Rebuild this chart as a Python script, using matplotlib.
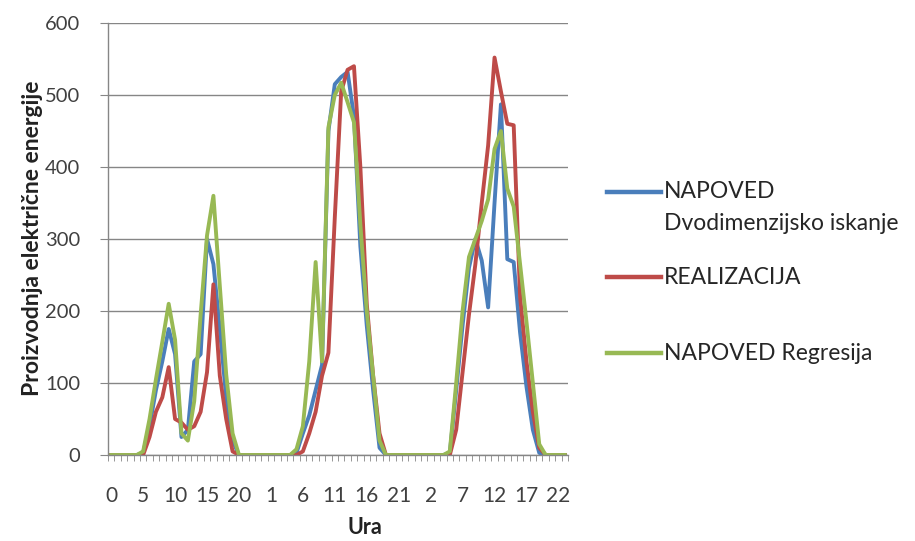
import matplotlib
matplotlib.use('Agg')
import matplotlib.pyplot as plt
from matplotlib.lines import Line2D
import numpy as np

plt.rcParams['font.family'] = ['Lato', 'DejaVu Sans']

# three days of hourly values
hours = list(range(24)) * 3

dvodim = [0, 0, 0, 0, 0, 3, 40, 90, 130, 175, 140, 25, 35, 130, 140, 300, 265, 175, 80, 20, 0, 0, 0, 0,
          0, 0, 0, 0, 0, 3, 30, 55, 90, 125, 450, 515, 525, 532, 470, 290, 180, 90, 10, 0, 0, 0, 0, 0,
          0, 0, 0, 0, 0, 3, 90, 180, 260, 300, 270, 205, 350, 487, 272, 268, 170, 95, 35, 3, 0, 0, 0, 0]
realizacija = [0, 0, 0, 0, 0, 0, 25, 60, 80, 122, 50, 45, 35, 40, 60, 115, 237, 110, 50, 5, 0, 0, 0, 0,
               0, 0, 0, 0, 0, 0, 5, 30, 60, 110, 142, 330, 505, 535, 540, 400, 210, 110, 30, 0, 0, 0, 0, 0,
               0, 0, 0, 0, 0, 0, 35, 115, 195, 265, 350, 430, 552, 505, 460, 458, 220, 130, 60, 10, 0, 0, 0, 0]
regresija = [0, 0, 0, 0, 0, 5, 50, 105, 157, 210, 160, 30, 20, 75, 195, 305, 360, 235, 112, 30, 0, 0, 0, 0,
             0, 0, 0, 0, 0, 8, 40, 130, 268, 130, 455, 500, 517, 490, 462, 320, 200, 110, 20, 0, 0, 0, 0, 0,
             0, 0, 0, 0, 0, 5, 100, 200, 275, 300, 325, 355, 425, 450, 370, 345, 265, 185, 100, 15, 0, 0, 0, 0]

names = ['NAPOVED\nDvodimenzijsko iskanje', 'REALIZACIJA', 'NAPOVED Regresija']
colors = ['#4a7ebb', '#be4b48', '#98b954']

W, H = 915, 541
fig = plt.figure(figsize=(W / 100, H / 100), dpi=100)
ax = fig.add_axes([108 / W, 1 - 455 / H, 460 / W, 432 / H])

x = np.arange(len(hours))
for vals, c in zip([dvodim, realizacija, regresija], colors):
    ax.plot(x, vals, color=c, lw=2.8, solid_joinstyle='round')

grey = '#868686'
ax.set_xlim(-0.5, len(hours) - 0.5)
ax.set_ylim(0, 600)
ax.set_yticks(np.arange(0, 601, 100))
ax.yaxis.grid(True, color=grey, lw=1)
ax.set_axisbelow(True)
for s in ['top', 'right']:
    ax.spines[s].set_visible(False)
for s in ['left', 'bottom']:
    ax.spines[s].set_color(grey)
    ax.spines[s].set_linewidth(1)

ax.set_xticks(x[::5])
ax.set_xticklabels([str(h) for h in hours[::5]])
ax.set_xticks(np.arange(-0.5, len(hours), 1), minor=True)
ax.tick_params(axis='x', which='major', length=0, pad=22, labelsize=15, colors='#404040')
ax.tick_params(axis='x', which='minor', length=4, color=grey, direction='out')
ax.tick_params(axis='y', length=6, color=grey, pad=14, labelsize=14.5, labelcolor='#404040')

fig.text(33 / W, 1 - 238 / H, 'Proizvodnja električne energije', rotation=90,
         ha='center', va='center', fontsize=16.5, fontweight='bold', color='#222222')
fig.text(365 / W, 1 - 527 / H, 'Ura', ha='center', va='center',
         fontsize=15.5, fontweight='bold', color='#222222')

# legend to the right of the plot
ys = [192, 277, 353]
for name, c, yy in zip(names, colors, ys):
    fy = 1 - yy / H
    fig.add_artist(Line2D([607 / W, 661 / W], [fy, fy], color=c, lw=3.2))
    fig.text(664 / W, fy, name.split('\n')[0], ha='left', va='center',
             fontsize=16.5, color='#262626')
    if '\n' in name:
        fig.text(664 / W, 1 - (yy + 31) / H, name.split('\n')[1], ha='left',
                 va='center', fontsize=16.5, color='#262626')

fig.savefig('out.png', dpi=100)
